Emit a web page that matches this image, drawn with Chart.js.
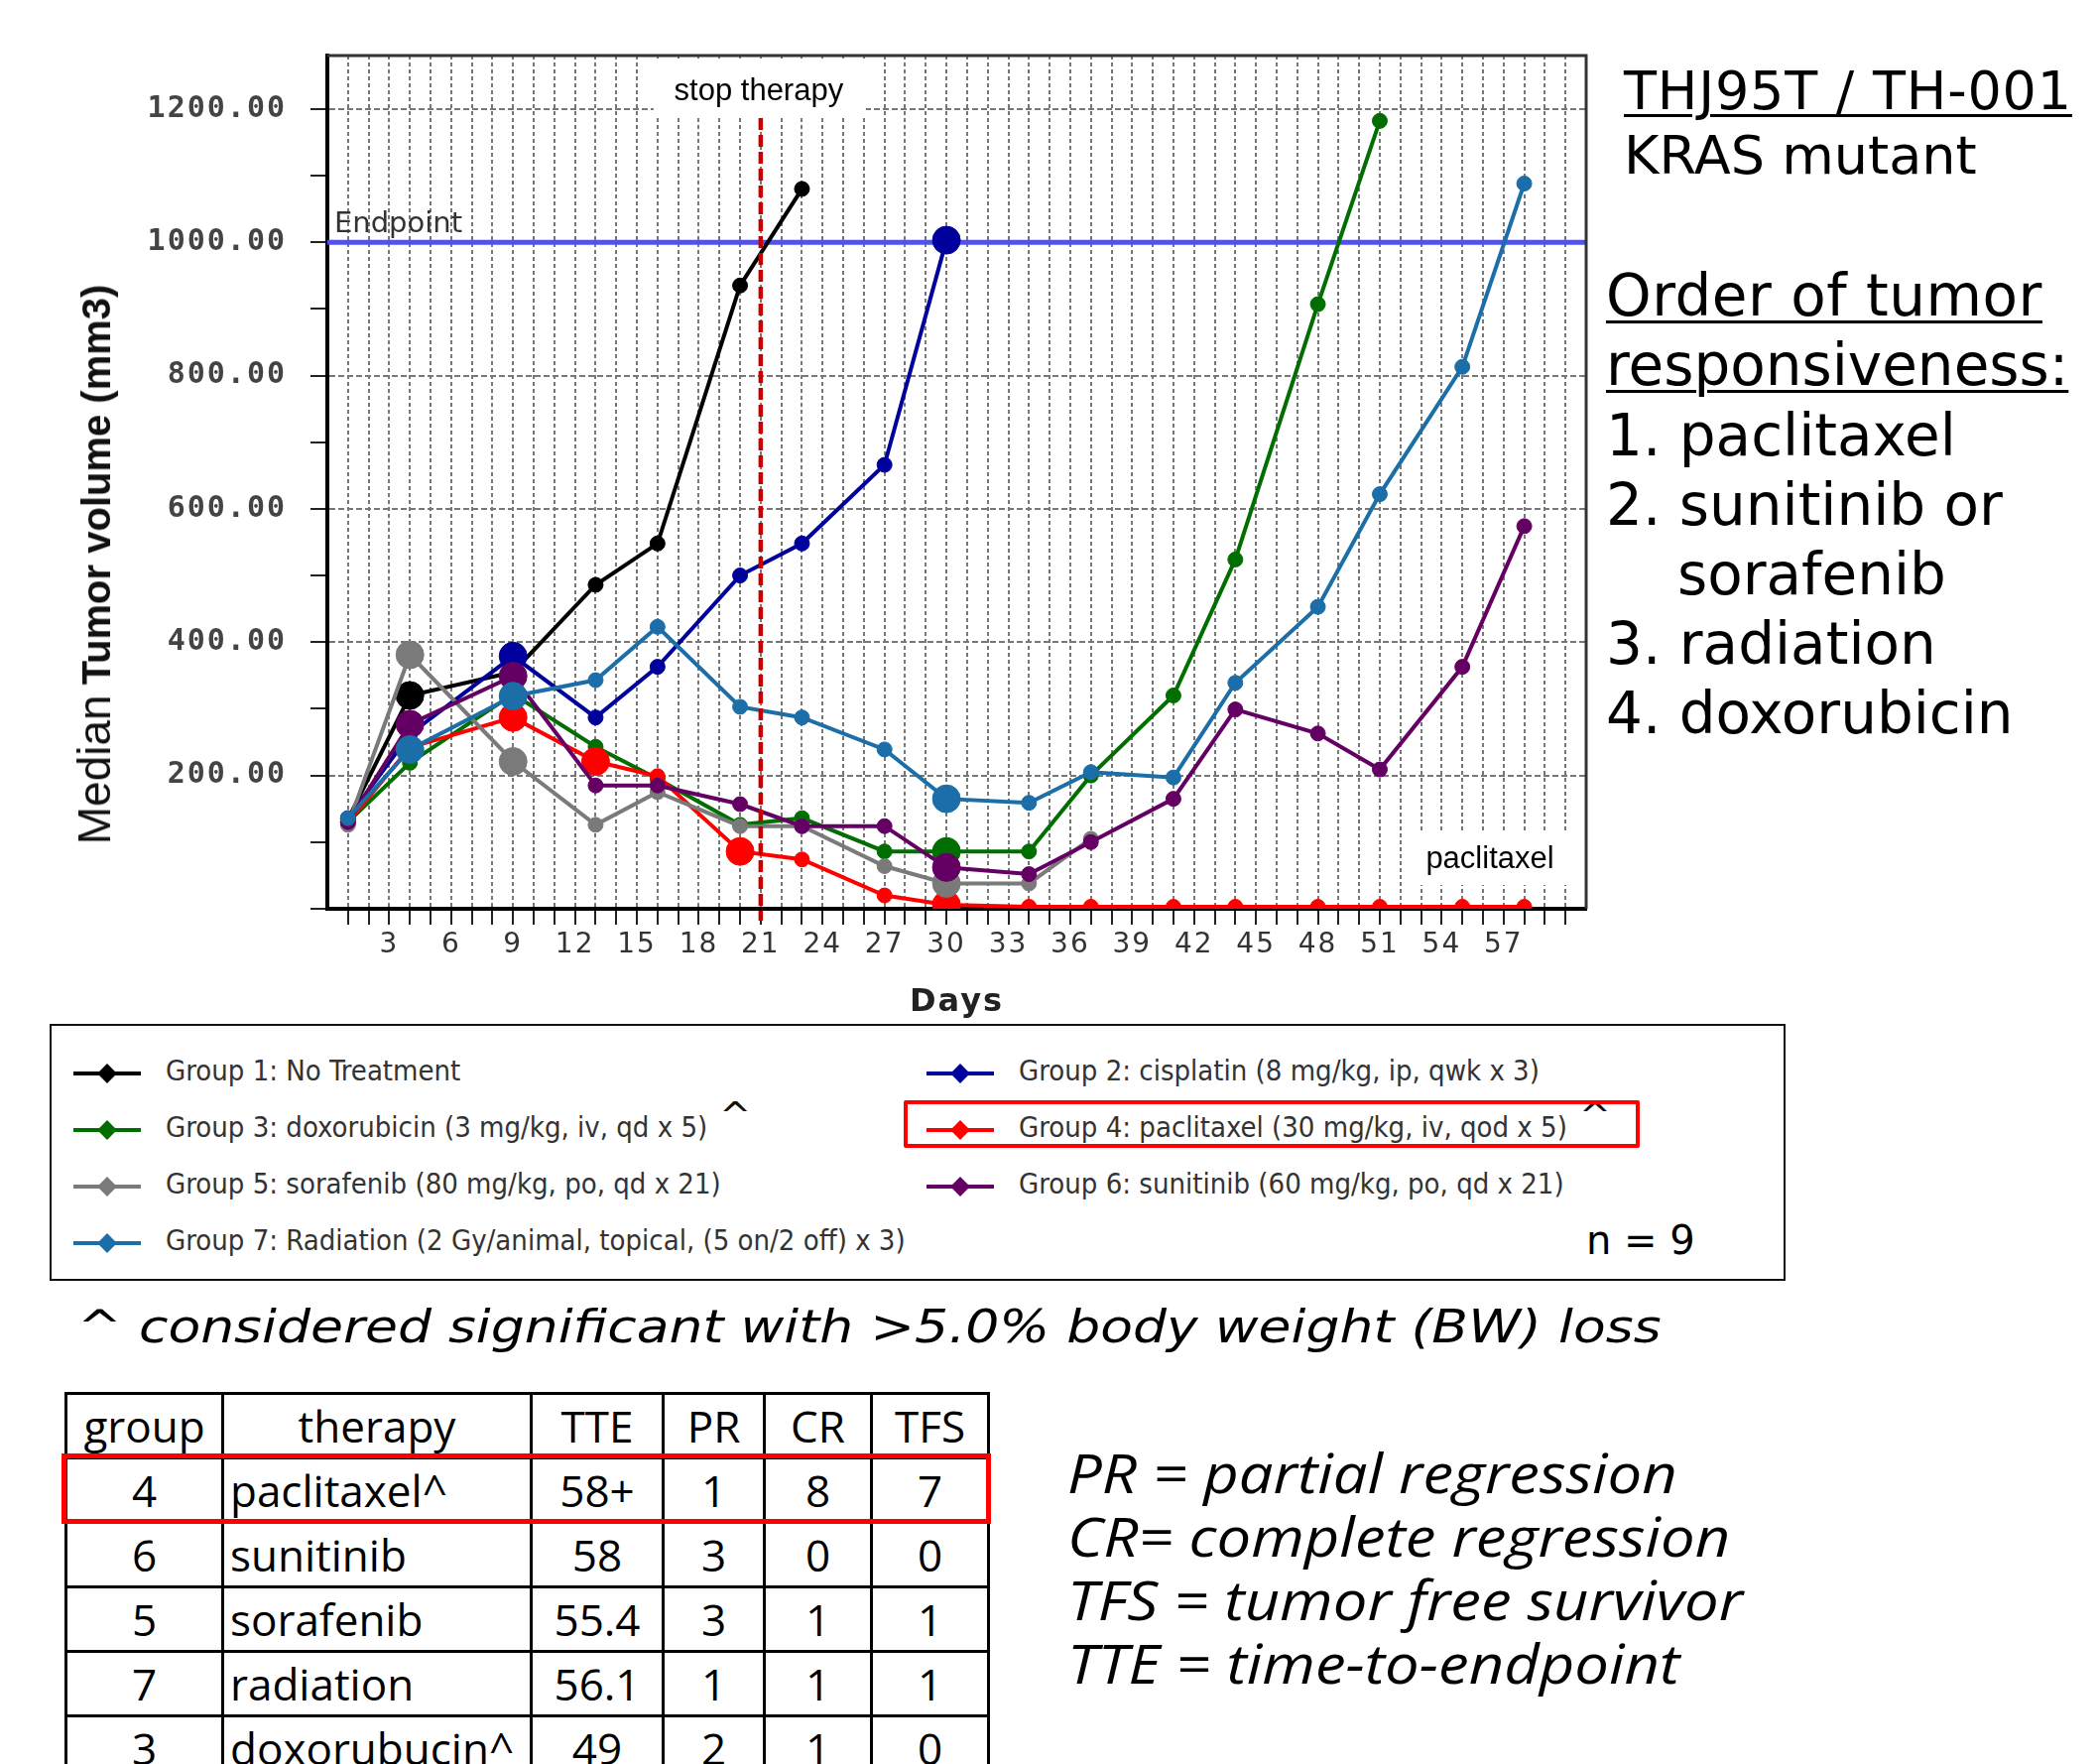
<!DOCTYPE html>
<html>
<head>
<meta charset="utf-8">
<script src="https://cdn.jsdelivr.net/npm/chart.js@4.4.1/dist/chart.umd.min.js"></script>
<style>
  body { margin:0; background:#fff; width:2116px; height:1778px; overflow:hidden; position:relative; font-family:"Liberation Sans", Arial, sans-serif; }
  #c { position:absolute; left:0; top:0; }
  #ytitle { position:absolute; left:95px; top:569px; transform:translate(-50%,-50%) rotate(-90deg); white-space:nowrap; color:#111; }
  #ytitle .med { font:46px "Liberation Sans", Arial, sans-serif; }
  #ytitle .tum { font:bold 40px "Liberation Sans", Arial, sans-serif; margin-left:10px; }
  .side { position:absolute; white-space:nowrap; font-family:"DejaVu Sans", Verdana, sans-serif; color:#000; }
  .u { text-decoration:underline; text-decoration-thickness:3px; text-underline-offset:5px; }
  #legend { position:absolute; left:50px; top:1032px; width:1746px; height:255px; border:2px solid #111; }
  .li { position:absolute; white-space:nowrap; height:40px; }
  .li .ln { position:absolute; left:0; top:18px; width:68px; height:4px; }
  .li .dm { position:absolute; left:27px; top:13px; width:14px; height:14px; transform:rotate(45deg); }
  .li .tx { position:absolute; left:93px; top:0; line-height:40px; font:29px "DejaVu Sans Condensed", "Liberation Sans", sans-serif; color:#333; }
  .li .car { position:relative; top:-9px; margin-left:12px; color:#111; font-size:38px; font-family:"DejaVu Sans", sans-serif; line-height:0; }
  #hl { position:absolute; left:911px; top:1109px; width:734px; height:40px; border:4px solid #f00; border-radius:2px; }
  #n9 { position:absolute; left:1599px; top:1227px; font:40px "DejaVu Sans", sans-serif; line-height:46px; }
  #foot { position:absolute; left:78px; top:1309px; font:italic 47px "DejaVu Sans", Verdana, sans-serif; line-height:56px; white-space:nowrap; transform:scaleX(1.14); transform-origin:0 50%; }
  #tbl { position:absolute; left:65px; top:1403px; border-collapse:collapse; table-layout:fixed; width:930px; font:44px "Open Sans", sans-serif; }
  #tbl td { border:3px solid #000; height:62px; padding:0; text-align:center; line-height:58px; overflow:hidden; white-space:nowrap; }
  #tbl td.th { text-align:left; padding-left:6px; }
  #rowhl { position:absolute; left:62px; top:1465px; width:927px; height:61px; border:5px solid #f00; }
  #defs { position:absolute; left:1076px; top:1452px; font:italic 54px "Open Sans", sans-serif; line-height:64px; white-space:nowrap; transform:scaleX(1.14); transform-origin:0 0; }
</style>
</head>
<body>
<canvas id="c" width="1620" height="1030"></canvas>
<div id="ytitle"><span class="med">Median</span><span class="tum">Tumor volume (mm3)</span></div>

<div class="side u" style="left:1637px;top:62px;font-size:54px;line-height:60px;letter-spacing:0.8px;">THJ95T / TH-001</div>
<div class="side" style="left:1637px;top:127px;font-size:54px;line-height:60px;">KRAS mutant</div>
<div class="side u" style="left:1619px;top:265px;font-size:58px;line-height:66px;letter-spacing:0.5px;">Order of tumor</div>
<div class="side u" style="left:1619px;top:335px;font-size:58px;line-height:66px;">responsiveness:</div>
<div class="side" style="left:1619px;top:406px;font-size:58px;line-height:66px;">1. paclitaxel</div>
<div class="side" style="left:1619px;top:476px;font-size:58px;line-height:66px;">2. sunitinib or</div>
<div class="side" style="left:1691px;top:546px;font-size:58px;line-height:66px;">sorafenib</div>
<div class="side" style="left:1619px;top:616px;font-size:58px;line-height:66px;">3. radiation</div>
<div class="side" style="left:1619px;top:686px;font-size:58px;line-height:66px;">4. doxorubicin</div>

<div id="legend"></div>
<div id="hl"></div>
<div id="n9">n = 9</div>
<div id="foot">^ considered significant with &gt;5.0% body weight (BW) loss</div>

<table id="tbl"></table>
<div id="rowhl"></div>
<div id="defs">PR = partial regression<br>CR= complete regression<br>TFS = tumor free survivor<br>TTE = time-to-endpoint</div>

<script>
// measurement days
const days = [1, 4, 9, 13, 16, 20, 23, 27, 30, 34, 37, 41, 44, 48, 51, 55, 58];

// median tumor volume (mm3) per group, one value per day above
const g1 = [134, 320, 355, 486, 548, 935, 1080];
const g2 = [136, 262, 379, 287, 363, 500, 548, 666, 1003];
const g3 = [130, 219, 322, 243, 195, 126, 136, 86, 86, 86, 200, 320, 524, 907, 1182];
const g4 = [130, 242, 287, 221, 199, 86, 74, 20, 6, 3, 3, 3, 3, 3, 3, 3, 3];
const g5 = [126, 381, 221, 126, 175, 124, 124, 64, 38, 38, 105];
const g6 = [130, 277, 349, 185, 185, 157, 124, 124, 62, 52, 100, 165, 299, 263, 209, 363, 574];
const g7 = [136, 239, 319, 343, 423, 303, 287, 239, 165, 159, 205, 197, 339, 453, 622, 813, 1088];

// days drawn with a big marker in each group
const bigMarkerDays = [[4], [9, 30], [30], [9, 13, 20, 30], [4, 9, 30], [4, 9, 30], [4, 9, 30]];

const groupLabels = [
  'Group 1: No Treatment',
  'Group 2: cisplatin (8 mg/kg, ip, qwk x 3)',
  'Group 3: doxorubicin (3 mg/kg, iv, qd x 5)',
  'Group 4: paclitaxel (30 mg/kg, iv, qod x 5)',
  'Group 5: sorafenib (80 mg/kg, po, qd x 21)',
  'Group 6: sunitinib (60 mg/kg, po, qd x 21)',
  'Group 7: Radiation (2 Gy/animal, topical, (5 on/2 off) x 3)'
];
const caretGroups = [3, 4];
const groupColors = ['#000000', '#00009c', '#006e00', '#ff0000', '#7a7a7a', '#640064', '#1b6ea8'];

const xLabelDays = [3, 6, 9, 12, 15, 18, 21, 24, 27, 30, 33, 36, 39, 42, 45, 48, 51, 54, 57];
const yLabelValues = [200, 400, 600, 800, 1000, 1200];
const endpointValue = 1000;
const stopDay = 21;

// table
const tableHead = ['group', 'therapy', 'TTE', 'PR', 'CR', 'TFS'];
const tableGroup = [4, 6, 5, 7, 3];
const tableTherapy = ['paclitaxel^', 'sunitinib', 'sorafenib', 'radiation', 'doxorubucin^'];
const tableTTE = ['58+', '58', '55.4', '56.1', '49'];
const tablePR = [1, 3, 3, 1, 2];
const tableCR = [8, 0, 1, 1, 1];
const tableTFS = [7, 0, 1, 1, 0];

const series = [g1, g2, g3, g4, g5, g6, g7];
const clear = 'rgba(0,0,0,0)';

const datasets = series.map((vals, i) => ({
  label: groupLabels[i],
  data: vals.map((v, j) => ({ x: days[j], y: v })),
  borderColor: groupColors[i],
  backgroundColor: groupColors[i],
  pointBackgroundColor: groupColors[i],
  pointBorderColor: groupColors[i],
  borderWidth: 4,
  pointBorderWidth: 1,
  pointRadius: ctx => bigMarkerDays[i].includes(days[ctx.dataIndex]) ? 14 : 7.5,
  tension: 0,
  order: 6 - i
}));

const annotate = {
  id: 'annotate',
  beforeDraw(chart) {
    // wide tick digits
    chart.ctx.letterSpacing = '2px';
  },
  beforeDatasetsDraw(chart) {
    const { ctx, chartArea: a, scales: { x, y } } = chart;
    ctx.letterSpacing = '0px';
    ctx.save();
    const ey = y.getPixelForValue(endpointValue);
    ctx.strokeStyle = '#5252e8';
    ctx.lineWidth = 5;
    ctx.beginPath(); ctx.moveTo(a.left, ey); ctx.lineTo(a.right, ey); ctx.stroke();
    ctx.fillStyle = '#333';
    ctx.font = '29px "DejaVu Sans"';
    ctx.textBaseline = 'alphabetic';
    ctx.fillText('Endpoint', a.left + 7, ey - 10);

    // white label boxes
    const sx = x.getPixelForValue(stopDay);
    ctx.fillStyle = '#fff';
    ctx.fillRect(sx - 108, a.top + 3, 214, 60);
    ctx.fillRect(a.right - 176, a.bottom - 78, 156, 54);
    ctx.fillStyle = '#000';
    ctx.font = '31px "Liberation Sans"';
    ctx.textAlign = 'center';
    ctx.textBaseline = 'middle';
    ctx.fillText('stop therapy', sx - 2, a.top + 36);
    ctx.fillText('paclitaxel', a.right - 97, a.bottom - 50);
    ctx.restore();
  },
  afterDatasetsDraw(chart) {
    const { ctx, chartArea: a, scales: { x } } = chart;
    const sx = x.getPixelForValue(stopDay);
    ctx.save();
    ctx.strokeStyle = '#c80000';
    ctx.lineWidth = 4.5;
    ctx.setLineDash([12, 5]);
    ctx.beginPath(); ctx.moveTo(sx, a.top + 63); ctx.lineTo(sx, a.bottom + 12); ctx.stroke();
    ctx.setLineDash([]);
    ctx.strokeStyle = '#333';
    ctx.lineWidth = 3;
    ctx.beginPath();
    ctx.moveTo(a.left, a.top); ctx.lineTo(a.right, a.top); ctx.lineTo(a.right, a.bottom);
    ctx.stroke();
    ctx.restore();
  }
};

const chart = new Chart(document.getElementById('c'), {
  type: 'line',
  data: { datasets },
  options: {
    responsive: false,
    animation: false,
    events: [],
    layout: { padding: { left: 0, right: 21, top: 56, bottom: 0 } },
    plugins: { legend: { display: false }, tooltip: { enabled: false } },
    scales: {
      x: {
        type: 'linear', min: 0, max: 61,
        afterFit: s => { s.height = 114; },
        border: { color: '#000', width: 4, dash: [4, 3] },
        grid: {
          color: c => (c.tick && c.tick.value > 0 && c.tick.value < 61) ? '#777' : clear,
          tickColor: c => (c.tick && c.tick.value > 0 && c.tick.value < 61) ? '#222' : clear,
          lineWidth: 2, tickLength: 16, tickWidth: 2
        },
        ticks: {
          stepSize: 1, autoSkip: false, maxRotation: 0, padding: 4,
          color: '#333', font: { family: 'DejaVu Sans', size: 28 },
          callback: v => xLabelDays.includes(v) ? String(v) : ''
        },
        title: {
          display: true, text: 'Days', color: '#222',
          font: { family: 'DejaVu Sans', size: 32, weight: 'bold' }, padding: { top: 0, bottom: 0 }
        }
      },
      y: {
        min: 0, max: 1280,
        afterFit: s => { s.width = 330; },
        border: { color: '#000', width: 4, dash: [6, 3] },
        grid: {
          color: c => (c.tick && yLabelValues.includes(c.tick.value)) ? '#777' : clear,
          tickColor: c => (c.tick && c.tick.value % 100 === 0) ? '#222' : clear,
          lineWidth: 2, tickLength: 17, tickWidth: 2
        },
        ticks: {
          stepSize: 100, autoSkip: false, padding: 24,
          color: '#444', font: { family: 'DejaVu Sans Mono', size: 30, weight: 'bold' },
          callback: v => yLabelValues.includes(v) ? v.toFixed(2) : ''
        }
      }
    }
  },
  plugins: [annotate]
});

// legend from the chart datasets
const legendEl = document.getElementById('legend');
chart.data.datasets.forEach((ds, i) => {
  const col = i % 2, row = Math.floor(i / 2);
  const item = document.createElement('div');
  item.className = 'li';
  item.style.left = (col ? 882 : 22) + 'px';
  item.style.top = (28 + row * 57) + 'px';
  const caret = caretGroups.includes(i + 1) ? '<span class="car">^</span>' : '';
  item.innerHTML = `<span class="ln" style="background:${ds.borderColor}"></span>` +
    `<span class="dm" style="background:${ds.borderColor}"></span>` +
    `<span class="tx">${ds.label}${caret}</span>`;
  legendEl.appendChild(item);
});

// results table
const colW = [158, 311, 133, 102, 108, 118];
const tbl = document.getElementById('tbl');
let html = '<colgroup>' + colW.map(w => `<col style="width:${w}px">`).join('') + '</colgroup>';
html += '<tr>' + tableHead.map(h => `<td>${h}</td>`).join('') + '</tr>';
tableGroup.forEach((g, r) => {
  html += `<tr><td>${g}</td><td class="th">${tableTherapy[r]}</td><td>${tableTTE[r]}</td>` +
    `<td>${tablePR[r]}</td><td>${tableCR[r]}</td><td>${tableTFS[r]}</td></tr>`;
});
tbl.innerHTML = html;
</script>
</body>
</html>
